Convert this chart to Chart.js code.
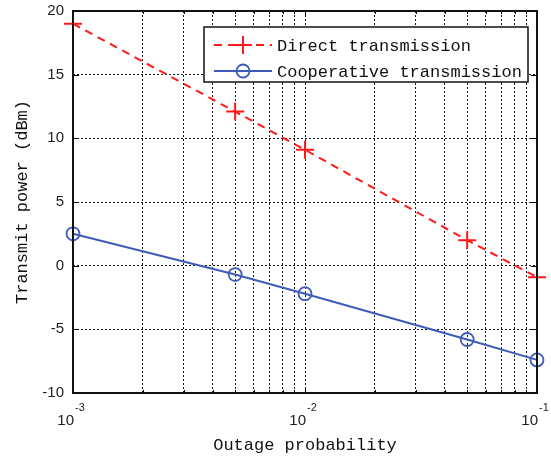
<!DOCTYPE html>
<html>
<head>
<meta charset="utf-8">
<script src="https://cdn.jsdelivr.net/npm/chart.js@4"></script>
<style>
  html, body { margin: 0; padding: 0; background: #fff; }
  #wrap { width: 551px; height: 462px; }
</style>
</head>
<body>
<div id="wrap"><canvas id="powerChart" width="551" height="462"></canvas></div>
<script>
// Data
const outageProb = [0.001, 0.005, 0.01, 0.05, 0.1];
const directPower = [19.0, 12.1, 9.1, 2.0, -0.9];
const coopPower = [2.5, -0.7, -2.2, -5.8, -7.4];

// x tick labels (decades) and grid positions
const xMajorTicks = [0.001, 0.01, 0.1];
const xMajorExp = ['-3', '-2', '-1'];
const xGridTicks = [
  0.001, 0.002, 0.003, 0.004, 0.005, 0.006, 0.007, 0.008, 0.009,
  0.01, 0.02, 0.03, 0.04, 0.05, 0.06, 0.07, 0.08, 0.09, 0.1
];
const yTicks = [-10, -5, 0, 5, 10, 15, 20];

const monoFont = '"Liberation Mono", "DejaVu Sans Mono", monospace';
const sansFont = '"Liberation Sans", Arial, sans-serif';

// Box, inner ticks, x tick labels and legend in MATLAB style
const matlabDecor = {
  id: 'matlabDecor',
  afterDraw(chart) {
    const ctx = chart.ctx;
    const area = chart.chartArea;
    const xs = chart.scales.x;
    const ys = chart.scales.y;
    ctx.save();

    // inner ticks
    ctx.strokeStyle = '#000';
    ctx.lineWidth = 1;
    ctx.beginPath();
    xGridTicks.forEach(v => {
      const px = Math.round(xs.getPixelForValue(v)) + 0.5;
      const len = xMajorTicks.includes(v) ? 6 : 3;
      ctx.moveTo(px, area.bottom); ctx.lineTo(px, area.bottom - len);
      ctx.moveTo(px, area.top); ctx.lineTo(px, area.top + len);
    });
    yTicks.forEach(v => {
      const py = Math.round(ys.getPixelForValue(v)) + 0.5;
      ctx.moveTo(area.left, py); ctx.lineTo(area.left + 6, py);
      ctx.moveTo(area.right, py); ctx.lineTo(area.right - 6, py);
    });
    ctx.stroke();

    // axes box
    ctx.lineWidth = 2;
    ctx.strokeStyle = '#111';
    ctx.strokeRect(area.left, area.top, area.right - area.left, area.bottom - area.top);

    // x tick labels 10^n
    ctx.fillStyle = '#222';
    xMajorTicks.forEach((v, i) => {
      const px = xs.getPixelForValue(v);
      ctx.font = '15px ' + sansFont;
      ctx.textAlign = 'right';
      ctx.textBaseline = 'alphabetic';
      ctx.fillText('10', px + 1, area.bottom + 32);
      ctx.font = '11px ' + sansFont;
      ctx.textAlign = 'left';
      ctx.fillText(xMajorExp[i], px + 2, area.bottom + 18);
    });

    // legend
    const lx = 204, ly = 27, lw = 324, lh = 55;
    ctx.fillStyle = '#fff';
    ctx.fillRect(lx, ly, lw, lh);
    ctx.lineWidth = 1.5;
    ctx.strokeStyle = '#111';
    ctx.strokeRect(lx, ly, lw, lh);
    const rows = [ly + 18, ly + 44];
    chart.data.datasets.forEach((ds, i) => {
      const y = rows[i];
      ctx.save();
      ctx.strokeStyle = ds.borderColor;
      ctx.lineWidth = ds.borderWidth;
      ctx.setLineDash(ds.borderDash || []);
      ctx.beginPath();
      ctx.moveTo(lx + 10, y); ctx.lineTo(lx + 68, y);
      ctx.stroke();
      ctx.restore();
      ctx.save();
      ctx.strokeStyle = ds.borderColor;
      ctx.lineWidth = ds.pointBorderWidth;
      ctx.beginPath();
      if (ds.pointStyle === 'cross') {
        ctx.moveTo(lx + 39 - 9, y); ctx.lineTo(lx + 39 + 9, y);
        ctx.moveTo(lx + 39, y - 9); ctx.lineTo(lx + 39, y + 9);
      } else {
        ctx.arc(lx + 39, y, ds.pointRadius, 0, Math.PI * 2);
      }
      ctx.stroke();
      ctx.restore();
      ctx.fillStyle = '#111';
      ctx.font = '17px ' + monoFont;
      ctx.textAlign = 'left';
      ctx.textBaseline = 'middle';
      ctx.fillText(ds.label, lx + 73, y + 1);
    });
    ctx.restore();
  }
};

const ctx = document.getElementById('powerChart').getContext('2d');
new Chart(ctx, {
  type: 'line',
  data: {
    datasets: [{
      label: 'Direct transmission',
      data: outageProb.map((x, i) => ({ x: x, y: directPower[i] })),
      borderColor: '#ff1a1a',
      borderWidth: 2,
      borderDash: [8, 6],
      pointStyle: 'cross',
      pointRadius: 9,
      pointBorderWidth: 2,
      pointBorderColor: '#ff1a1a',
      tension: 0,
      fill: false,
      clip: false
    }, {
      label: 'Cooperative transmission',
      data: outageProb.map((x, i) => ({ x: x, y: coopPower[i] })),
      borderColor: '#3d5cb8',
      borderWidth: 2,
      pointStyle: 'circle',
      pointRadius: 6.5,
      pointBorderWidth: 1.8,
      pointBorderColor: '#3d5cb8',
      pointBackgroundColor: 'rgba(0,0,0,0)',
      tension: 0,
      fill: false,
      clip: false
    }]
  },
  options: {
    responsive: false,
    animation: false,
    layout: { padding: { top: 11, right: 14, left: 0, bottom: 0 } },
    plugins: {
      legend: { display: false },
      tooltip: { enabled: false }
    },
    scales: {
      x: {
        type: 'logarithmic',
        min: 0.001,
        max: 0.1,
        afterBuildTicks: scale => { scale.ticks = xGridTicks.map(v => ({ value: v })); },
        afterFit: scale => {
          scale.height = 69;
          scale.paddingLeft = 0;
          scale.paddingRight = 0;
        },
        ticks: { display: false },
        grid: { color: 'rgba(0,0,0,0.9)', lineWidth: 1, drawTicks: false },
        border: { display: false, dash: [2, 2] },
        title: {
          display: true,
          text: 'Outage probability',
          color: '#111',
          font: { family: monoFont, size: 17 },
          padding: { top: 0, bottom: 6 }
        }
      },
      y: {
        min: -10,
        max: 20,
        afterBuildTicks: scale => { scale.ticks = yTicks.map(v => ({ value: v })); },
        afterFit: scale => {
          scale.width = 73;
          scale.paddingTop = 0;
          scale.paddingBottom = 0;
        },
        ticks: {
          color: '#222',
          padding: 9,
          font: { family: sansFont, size: 15 }
        },
        grid: { color: 'rgba(0,0,0,0.9)', lineWidth: 1, drawTicks: false },
        border: { display: false, dash: [2, 2] },
        title: {
          display: true,
          text: 'Transmit power (dBm)',
          color: '#111',
          font: { family: monoFont, size: 17 },
          padding: { top: 12, bottom: 0 }
        }
      }
    }
  },
  plugins: [matlabDecor]
});
</script>
</body>
</html>
